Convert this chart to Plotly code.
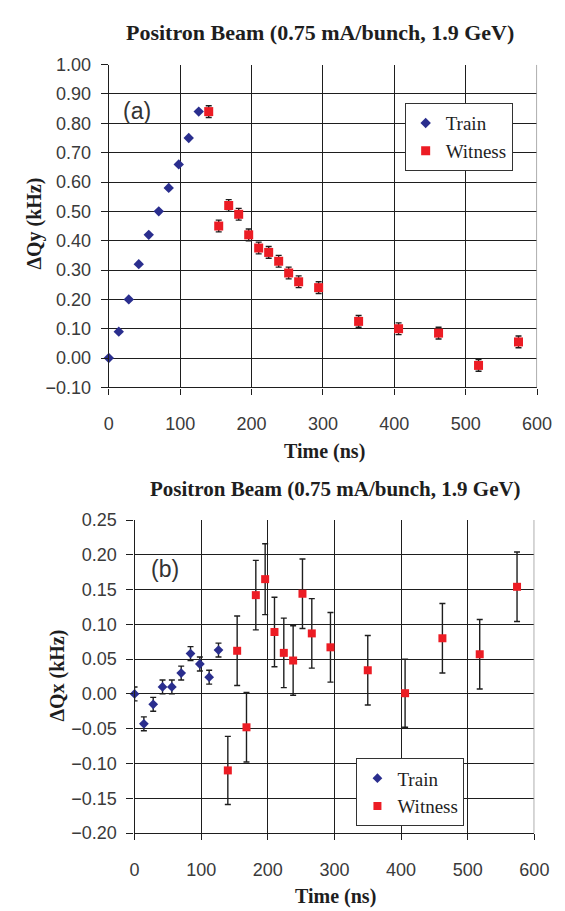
import plotly.graph_objects as go
from plotly.subplots import make_subplots

# bunch times (ns)
train_t = [0, 14, 28, 42, 56, 70, 84, 98, 112, 126]
witness_t = [140, 154, 168, 182, 196, 210, 224, 238, 252, 266, 294, 350, 406, 462, 518, 574]

# (a) vertical tune shift
a_train_dqy = [0.00, 0.09, 0.20, 0.32, 0.42, 0.50, 0.58, 0.66, 0.75, 0.84]
a_witness_dqy = [0.84, 0.45, 0.52, 0.49, 0.42, 0.375, 0.36, 0.33, 0.29, 0.26,
                 0.24, 0.125, 0.10, 0.085, -0.025, 0.055]
a_witness_err = [0.02, 0.02, 0.02, 0.02, 0.02, 0.02, 0.02, 0.02, 0.02, 0.02,
                 0.02, 0.02, 0.02, 0.02, 0.02, 0.02]

# (b) horizontal tune shift
b_train_dqx = [0.00, -0.043, -0.015, 0.01, 0.01, 0.03, 0.058, 0.043, 0.024, 0.063]
b_train_err = [0.01, 0.01, 0.01, 0.01, 0.01, 0.01, 0.01, 0.01, 0.01, 0.01]
b_witness_dqx = [-0.11, 0.062, -0.048, 0.142, 0.165, 0.089, 0.059, 0.048, 0.144, 0.087,
                 0.067, 0.034, 0.001, 0.080, 0.057, 0.154]
b_witness_err = [0.049, 0.05, 0.05, 0.05, 0.051, 0.05, 0.05, 0.05, 0.05, 0.05,
                 0.05, 0.05, 0.049, 0.05, 0.05, 0.05]

title_text = "Positron Beam (0.75 mA/bunch, 1.9 GeV)"
BLUE = "#2A2E8E"
RED = "#EC1C24"
INK = "#1e1e1e"
SERIF = "Liberation Serif"
SANS = "Liberation Sans"
W, H = 565, 911

fig = make_subplots(rows=2, cols=1)

err_style = dict(type="data", color=INK, thickness=1.4, width=3)

fig.add_trace(go.Scatter(x=train_t, y=a_train_dqy, mode="markers", name="Train",
                         marker=dict(symbol="diamond", size=8, color=BLUE),
                         cliponaxis=False, legend="legend"), row=1, col=1)
fig.add_trace(go.Scatter(x=witness_t, y=a_witness_dqy, mode="markers", name="Witness",
                         marker=dict(symbol="square", size=9, color=RED),
                         error_y=dict(array=a_witness_err, **err_style),
                         cliponaxis=False, legend="legend"), row=1, col=1)
fig.add_trace(go.Scatter(x=train_t, y=b_train_dqx, mode="markers", name="Train",
                         marker=dict(symbol="diamond", size=7.5, color=BLUE),
                         error_y=dict(array=b_train_err, **err_style),
                         cliponaxis=False, legend="legend2"), row=2, col=1)
fig.add_trace(go.Scatter(x=witness_t, y=b_witness_dqx, mode="markers", name="Witness",
                         marker=dict(symbol="square", size=8, color=RED),
                         error_y=dict(array=b_witness_err, **err_style),
                         cliponaxis=False, legend="legend2"), row=2, col=1)


def px_x(v):
    return v / W


def px_y(v):
    return 1 - v / H


axis_common = dict(showline=True, linecolor=INK, linewidth=1.3, showgrid=True,
                   gridcolor=INK, gridwidth=1.3, zeroline=False, ticks="outside",
                   tickcolor=INK, tickwidth=1.3,
                   tickfont=dict(family=SANS, size=18, color="#3a3a3a"))

fig.update_layout(
    font=dict(family=SERIF, color=INK),
    xaxis=dict(domain=[px_x(99.3), px_x(543.3)], range=[0, 600], tick0=0, dtick=100,
               ticklen=6, ticklabelstandoff=14, **axis_common),
    yaxis=dict(domain=[px_y(377.7), px_y(47.7)], range=[-0.1, 1.0], tick0=0, dtick=0.1,
               tickformat=".2f", ticklen=7, ticklabelstandoff=6, **axis_common),
    xaxis2=dict(domain=[px_x(126), px_x(540.5)], range=[0, 600], tick0=0, dtick=100,
                ticklen=6, ticklabelstandoff=14, **axis_common),
    yaxis2=dict(domain=[px_y(833.3), px_y(513.3)], range=[-0.2, 0.25], tick0=0, dtick=0.05,
                tickformat=".2f", ticklen=7, ticklabelstandoff=6, **axis_common),
)

legend_style = dict(bgcolor="white", bordercolor="#333", borderwidth=1,
                    xanchor="right", yanchor="top", tracegroupgap=0,
                    itemwidth=30)
fig.update_layout(
    legend=dict(x=px_x(518), y=px_y(87), **legend_style),
    legend2=dict(x=px_x(468), y=px_y(757), **legend_style),
)
fig.update_layout(legend_font=dict(family=SERIF, size=19, color=INK),
                  legend2_font=dict(family=SERIF, size=19, color=INK))

# gray right-hand frame edge, as in the spreadsheet plot
for xr, yr, y0, y1 in [("x", "y", -0.1, 1.0), ("x2", "y2", -0.2, 0.25)]:
    fig.add_shape(type="line", xref=xr, yref=yr, x0=600, x1=600, y0=y0, y1=y1,
                  line=dict(color="#9a9a9a", width=1.6), layer="above")

ann = []
ann.append(dict(text="<b>" + title_text + "</b>", x=px_x(318.5), y=px_y(15),
                font=dict(family=SERIF, size=22, color=INK)))
ann.append(dict(text="<b>" + title_text + "</b>", x=px_x(334), y=px_y(482),
                font=dict(family=SERIF, size=21, color=INK)))
ann.append(dict(text="<b>ΔQy (kHz)</b>", x=px_x(22), y=px_y(210), textangle=-90,
                font=dict(family=SERIF, size=20, color=INK)))
ann.append(dict(text="<b>ΔQx (kHz)</b>", x=px_x(46), y=px_y(672), textangle=-90,
                font=dict(family=SERIF, size=20, color=INK)))
ann.append(dict(text="<b>Time (ns)</b>", x=px_x(323), y=px_y(443),
                font=dict(family=SERIF, size=20, color=INK)))
ann.append(dict(text="<b>Time (ns)</b>", x=px_x(334), y=px_y(898),
                font=dict(family=SERIF, size=20, color=INK)))
ann.append(dict(text="(a)", x=px_x(129), y=px_y(95),
                font=dict(family=SANS, size=23, color="#333")))
ann.append(dict(text="(b)", x=px_x(158), y=px_y(563),
                font=dict(family=SANS, size=23, color="#333")))
for a in ann:
    a.update(xref="paper", yref="paper", showarrow=False, xanchor="center", yanchor="middle")
fig.update_layout(annotations=ann)

fig.update_layout(width=W, height=H, margin=dict(l=0, r=0, t=0, b=0),
                  plot_bgcolor="white", paper_bgcolor="white")

fig.write_html("out.html")
